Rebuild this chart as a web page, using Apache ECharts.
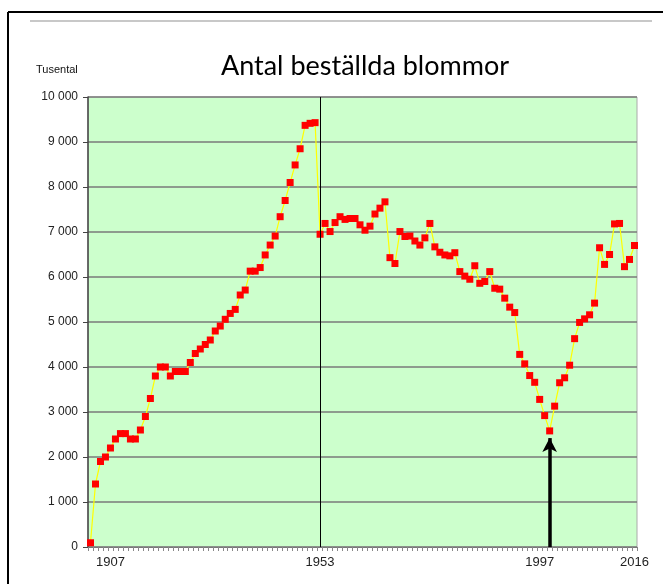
<!DOCTYPE html>
<html>
<head>
<meta charset="utf-8">
<script src="https://cdn.jsdelivr.net/npm/echarts@6/dist/echarts.min.js"></script>
<style>
html,body{margin:0;padding:0;background:#fff;}
#c{width:663px;height:584px;}
</style>
</head>
<body>
<div id="c"></div>
<script>
// ---- data ----
const firstYear = 1907;
const values = [
  95, 1400, 1900, 2000, 2200, 2400, 2520, 2520, 2400, 2400,
  2600, 2900, 3300, 3800, 4000, 4000, 3800, 3900, 3900, 3900,
  4100, 4300, 4400, 4500, 4600, 4800, 4910, 5060, 5190, 5280,
  5600, 5710, 6130, 6130, 6210, 6490, 6710, 6910, 7340, 7700,
  8100, 8490, 8850, 9370, 9415, 9430, 6950, 7190, 7010, 7210,
  7340, 7280, 7300, 7300, 7160, 7040, 7130, 7400, 7530, 7670,
  6430, 6300, 7010, 6900, 6910, 6800, 6710, 6870, 7190, 6670,
  6550, 6490, 6470, 6540, 6120, 6020, 5950, 6250, 5860, 5900,
  6120, 5750, 5730, 5530, 5330, 5210, 4280, 4070, 3810, 3660,
  3280, 2920, 2580, 3130, 3650, 3760, 4040, 4630, 4990, 5070,
  5160, 5420, 6650, 6280, 6500, 7180, 7190, 6230, 6390, 6700
];
const years = values.map((v, i) => String(firstYear + i));
const xTickLabels = ['1907', '1953', '1997', '2016'];
const xTickIndex = [0, 46, 90, 109];
const dividerYear = '1953';
const arrowIndex = 92;          // lowest point, marked by the arrow
const arrowTop = 2420;

function fmt(v) { return String(v).replace(/\B(?=(\d{3})+(?!\d))/g, ' '); }

const chart = echarts.init(document.getElementById('c'), null, {renderer: 'canvas'});
chart.setOption({
  animation: false,
  backgroundColor: '#fff',
  graphic: [
    {type: 'line', shape: {x1: 8, y1: 12, x2: 8, y2: 600}, style: {stroke: '#000', lineWidth: 2}},
    {type: 'line', shape: {x1: 8, y1: 12, x2: 663, y2: 12}, style: {stroke: '#000', lineWidth: 2}},
    {type: 'line', shape: {x1: 30, y1: 21, x2: 652, y2: 21}, style: {stroke: '#c8c8c8', lineWidth: 2}},
    {type: 'text', left: 36, top: 64, style: {text: 'Tusental', font: '11px "Liberation Sans", Arial', fill: '#111'}}
  ],
  title: {
    text: 'Antal beställda blommor',
    left: 360, top: 48, textAlign: 'center',
    textStyle: {fontFamily: 'Lato', fontWeight: 'normal', fontSize: 27, color: '#000'}
  },
  grid: {left: 88, right: 26, top: 97, bottom: 37, show: true, backgroundColor: '#ccffcc', borderColor: '#aaa', borderWidth: 1},
  xAxis: {
    type: 'category',
    data: years,
    boundaryGap: true,
    axisLine: {lineStyle: {color: '#777', width: 1}},
    axisTick: {show: true, interval: 0, length: 4, lineStyle: {color: '#888'}},
    axisLabel: {
      interval: (i) => xTickIndex.indexOf(i) >= 0,
      formatter: (v, i) => {
        const k = xTickIndex.indexOf(i);
        return k === 0 ? '{a|' + xTickLabels[k] + '}' : xTickLabels[k];
      },
      rich: {a: {padding: [0, 0, 0, 40], fontSize: 13, color: '#222', fontFamily: '"Liberation Sans", Arial'}},
      color: '#222', fontSize: 13, margin: 9, fontFamily: '"Liberation Sans", Arial'
    },
    splitLine: {show: false}
  },
  yAxis: {
    type: 'value',
    min: 0, max: 10000, interval: 1000,
    axisLine: {show: true, lineStyle: {color: '#444', width: 1.5}},
    axisTick: {show: true, length: 5, lineStyle: {color: '#444'}},
    axisLabel: {formatter: fmt, color: '#222', fontSize: 12, margin: 10, fontFamily: '"Liberation Sans", Arial'},
    splitLine: {lineStyle: {color: '#7a7a7a', width: 1.5}}
  },
  series: [{
    type: 'line',
    data: values,
    symbol: 'rect',
    symbolSize: 7,
    showSymbol: true,
    showAllSymbol: true,
    itemStyle: {color: '#ff0000'},
    lineStyle: {color: '#ffff00', width: 1.2},
    z: 3,
    markLine: {
      silent: true,
      animation: false,
      label: {show: false},
      data: [
        [{coord: [dividerYear, 0], symbol: 'none', lineStyle: {color: '#000', width: 1, type: 'solid'}},
         {coord: [dividerYear, 10000], symbol: 'none'}],
        [{coord: [years[arrowIndex], 0], symbol: 'none', lineStyle: {color: '#000', width: 3.5, type: 'solid'}},
         {coord: [years[arrowIndex], arrowTop], symbol: 'arrow', symbolSize: [11, 14]}]
      ]
    }
  }]
});
</script>
</body>
</html>
